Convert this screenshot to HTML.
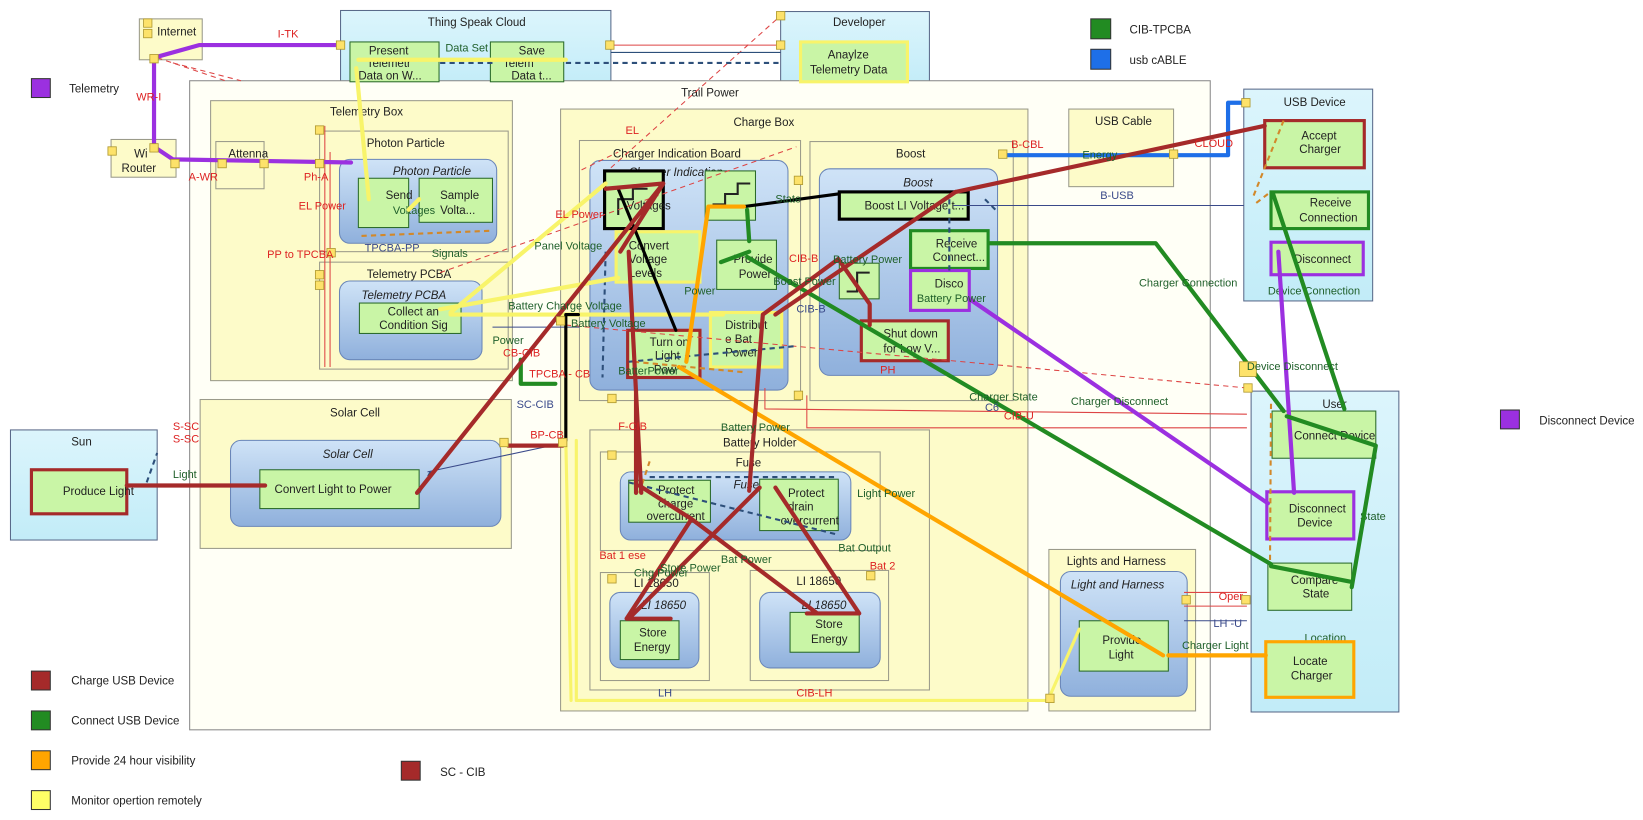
<!DOCTYPE html>
<html><head><meta charset="utf-8"><style>
html,body{margin:0;padding:0;background:#fff;}
svg{display:block;font-family:"Liberation Sans",sans-serif;}
.y{fill:#fdfbc9;stroke:#9a9a8a;stroke-width:1}
.w{fill:#fffff6;stroke:#8a8a8a;stroke-width:1}
.lb{fill:url(#lbg);stroke:#5a6a8a;stroke-width:1}
.ib{fill:url(#ibg);stroke:#6a86b8;stroke-width:1}
.g{fill:#c9f5a6;stroke:#2a6a2a;stroke-width:1}
.t{font-size:11px;fill:#222}
.ti{font-size:11px;fill:#222;font-style:italic}
.f{font-size:10.5px;fill:#1f5f2a}
.r{font-size:10.5px;fill:#d22}
.bl{font-size:10.5px;fill:#3a4a8a}
.c{text-anchor:middle}
.p{fill:#fde26a;stroke:#b09a30;stroke-width:.8}
</style></head><body>
<svg width="1643" height="820" viewBox="0 0 1568 782" preserveAspectRatio="none">
<defs>
<linearGradient id="lbg" x1="0" y1="0" x2="0" y2="1"><stop offset="0" stop-color="#dcf5fc"/><stop offset="1" stop-color="#c2ecf8"/></linearGradient>
<linearGradient id="ibg" x1="0" y1="0" x2="0" y2="1"><stop offset="0" stop-color="#cfe3f7"/><stop offset="1" stop-color="#8fb0dc"/></linearGradient>
</defs>

<!-- outer structures -->
<rect class="y" x="133" y="18" width="60" height="39"/>
<text class="t" x="150" y="34">Internet</text>
<rect class="y" x="106" y="133" width="62" height="36"/>
<text class="t" x="128" y="150">Wi</text><text class="t" x="116" y="164">Router</text>

<rect class="lb" x="325" y="10" width="258" height="73"/>
<text class="t c" x="455" y="25">Thing Speak Cloud</text>
<rect class="lb" x="745" y="11" width="142" height="72"/>
<text class="t c" x="820" y="25">Developer</text>

<rect class="w" x="181" y="77" width="974" height="619"/>
<text class="t" x="650" y="92">Trail Power</text>

<!-- telemetry box -->
<rect class="y" x="201" y="96" width="288" height="267"/>
<text class="t" x="315" y="110">Telemetry Box</text>
<rect class="y" x="206" y="135" width="46" height="45"/>
<text class="t" x="218" y="150">Attenna</text>
<rect class="y" x="305" y="125" width="180" height="115"/>
<text class="t" x="350" y="140">Photon Particle</text>
<rect class="ib" x="324" y="152" width="150" height="80" rx="10"/>
<text class="ti" x="375" y="167">Photon Particle</text>
<rect class="g" x="342" y="170" width="48" height="47"/>
<text class="t" x="368" y="190">Send</text>
<rect class="g" x="400" y="170" width="70" height="42"/>
<text class="t" x="420" y="190">Sample</text><text class="t" x="420" y="204">Volta...</text>
<text class="f" x="375" y="204">Voltages</text>
<rect class="y" x="305" y="250" width="180" height="102"/>
<text class="t" x="350" y="265">Telemetry PCBA</text>
<rect class="ib" x="324" y="268" width="136" height="75" rx="10"/>
<text class="ti" x="345" y="285">Telemetry PCBA</text>
<rect class="g" x="343" y="289" width="97" height="29"/>
<text class="t" x="370" y="301">Collect an</text><text class="t" x="362" y="314">Condition Sig</text>

<!-- solar -->
<rect class="y" x="191" y="381" width="297" height="142"/>
<text class="t" x="315" y="397">Solar Cell</text>
<rect class="ib" x="220" y="420" width="258" height="82" rx="10"/>
<text class="ti" x="308" y="437">Solar Cell</text>
<rect class="g" x="248" y="448" width="152" height="37"/>
<text class="t" x="262" y="470">Convert Light to Power</text>

<rect class="lb" x="10" y="410" width="140" height="105"/>
<text class="t" x="68" y="425">Sun</text>
<rect class="g" x="30" y="448" width="91" height="42" style="stroke:#a52a2a;stroke-width:3"/>
<text class="t" x="60" y="472">Produce Light</text>

<!-- charge box -->
<rect class="y" x="535" y="104" width="446" height="574"/>
<text class="t" x="700" y="120">Charge Box</text>
<rect class="y" x="553" y="134" width="211" height="248"/>
<text class="t" x="585" y="150">Charger Indication Board</text>
<rect class="ib" x="563" y="153" width="189" height="219" rx="10"/>
<text class="ti" x="600" y="168">Charger Indication</text>
<rect class="g" x="577" y="163" width="56" height="55" style="stroke:#000;stroke-width:3"/>
<path d="M590 205 v-15 h14 v-10 h14" fill="none" stroke="#222" stroke-width="2"/>
<text class="t" x="598" y="200">Voltages</text>
<rect class="g" x="673" y="163" width="48" height="47"/>
<path d="M680 195 h12 v-10 h12 v-10 h12" fill="none" stroke="#222" stroke-width="2"/>
<rect class="g" x="588" y="221" width="80" height="48" style="stroke:#f8f46a;stroke-width:3"/>
<text class="t" x="600" y="238">Convert</text><text class="t" x="600" y="251">Voltage</text><text class="t" x="600" y="264">Levels</text>
<rect class="g" x="684" y="229" width="57" height="47"/>
<text class="t" x="700" y="251">Provide</text><text class="t" x="705" y="265">Power</text>
<rect class="g" x="599" y="315" width="69" height="45" style="stroke:#a52a2a;stroke-width:3"/>
<text class="t" x="620" y="330">Turn on</text><text class="t" x="625" y="343">Light</text><text class="t" x="624" y="356">Pow</text>
<rect class="g" x="678" y="298" width="68" height="52" style="stroke:#f8f46a;stroke-width:3"/>
<text class="t" x="692" y="314">Distribut</text><text class="t" x="692" y="327">e Bat</text><text class="t" x="692" y="340">Power</text>

<rect class="y" x="773" y="135" width="194" height="247"/>
<text class="t" x="855" y="150">Boost</text>
<rect class="ib" x="782" y="161" width="170" height="197" rx="10"/>
<text class="ti" x="862" y="178">Boost</text>
<rect class="g" x="801" y="183" width="123" height="26" style="stroke:#000;stroke-width:3"/>
<text class="t" x="825" y="200">Boost LI Voltage t...</text>
<rect class="g" x="801" y="251" width="38" height="34"/>
<path d="M808 278 h10 v-18 h12" fill="none" stroke="#222" stroke-width="2"/>
<rect class="g" x="869" y="220" width="74" height="36" style="stroke:#228b22;stroke-width:3"/>
<text class="t" x="893" y="236">Receive</text><text class="t" x="890" y="249">Connect...</text>
<rect class="g" x="869" y="258" width="56" height="38" style="stroke:#9b30e0;stroke-width:3"/>
<text class="t" x="892" y="274">Disco</text>
<rect class="g" x="822" y="306" width="83" height="38" style="stroke:#a52a2a;stroke-width:3"/>
<text class="t" x="843" y="322">Shut down</text><text class="t" x="843" y="336">for Low V...</text>

<rect class="y" x="563" y="410" width="324" height="248"/>
<text class="t" x="690" y="426">Battery Holder</text>
<rect class="y" x="573" y="431" width="267" height="94"/>
<text class="t" x="702" y="445">Fuse</text>
<rect class="ib" x="592" y="450" width="220" height="65" rx="10"/>
<text class="ti" x="700" y="466">Fuse</text>
<rect class="g" x="600" y="458" width="78" height="40"/>
<text class="t" x="628" y="471">Protect</text><text class="t" x="628" y="484">charge</text><text class="t" x="617" y="496">overcurrent</text>
<rect class="g" x="725" y="457" width="75" height="49"/>
<text class="t" x="752" y="474">Protect</text><text class="t" x="752" y="487">drain</text><text class="t" x="745" y="500">overcurrent</text>
<rect class="y" x="573" y="546" width="104" height="103"/>
<text class="t" x="605" y="560">LI 18650</text>
<rect class="ib" x="582" y="565" width="85" height="72" rx="10"/>
<text class="ti" x="612" y="581">LI 18650</text>
<rect class="g" x="592" y="592" width="56" height="37"/>
<text class="t" x="610" y="607">Store</text><text class="t" x="605" y="621">Energy</text>
<rect class="y" x="716" y="544" width="132" height="105"/>
<text class="t" x="760" y="558">LI 18650</text>
<rect class="ib" x="725" y="565" width="115" height="72" rx="10"/>
<text class="ti" x="765" y="581">LI 18650</text>
<rect class="g" x="754" y="584" width="66" height="38"/>
<text class="t" x="778" y="599">Store</text><text class="t" x="774" y="613">Energy</text>

<rect class="y" x="1020" y="104" width="100" height="74"/>
<text class="t" x="1045" y="119">USB Cable</text>
<rect class="y" x="1001" y="524" width="140" height="154"/>
<text class="t" x="1018" y="539">Lights and Harness</text>
<rect class="ib" x="1012" y="545" width="121" height="119" rx="10"/>
<text class="ti" x="1022" y="561">Light and Harness</text>
<rect class="g" x="1030" y="592" width="85" height="48"/>
<text class="t" x="1052" y="614">Provide</text><text class="t" x="1058" y="628">Light</text>

<!-- USB Device & User -->
<rect class="lb" x="1187" y="85" width="123" height="202"/>
<text class="t" x="1225" y="101">USB Device</text>
<rect class="g" x="1207" y="115" width="95" height="45" style="stroke:#a52a2a;stroke-width:3"/>
<text class="t" x="1242" y="133">Accept</text><text class="t" x="1240" y="146">Charger</text>
<rect class="g" x="1213" y="183" width="93" height="35" style="stroke:#228b22;stroke-width:3"/>
<text class="t" x="1250" y="197">Receive</text><text class="t" x="1240" y="211">Connection</text>
<rect class="g" x="1213" y="231" width="88" height="31" style="stroke:#9b30e0;stroke-width:3"/>
<text class="t" x="1235" y="251">Disconnect</text>
<text class="f" x="1210" y="281">Device Connection</text>

<rect class="lb" x="1194" y="373" width="141" height="306"/>
<text class="t" x="1262" y="389">User</text>
<rect class="g" x="1214" y="392" width="99" height="45"/>
<text class="t" x="1235" y="419">Connect Device</text>
<rect class="g" x="1209" y="469" width="83" height="45" style="stroke:#9b30e0;stroke-width:3"/>
<text class="t" x="1230" y="489">Disconnect</text><text class="t" x="1238" y="502">Device</text>
<text class="f" x="1298" y="496">State</text>
<rect class="g" x="1210" y="537" width="80" height="45"/>
<text class="t" x="1232" y="557">Compare</text><text class="t" x="1243" y="570">State</text>
<text class="f" x="1245" y="612">Location</text>
<rect class="g" x="1208" y="612" width="84" height="53" style="stroke:#ffa500;stroke-width:3"/>
<text class="t" x="1234" y="634">Locate</text><text class="t" x="1232" y="648">Charger</text>

<rect class="g" x="764" y="40" width="102" height="38" style="stroke:#f8f46a;stroke-width:3"/>
<text class="t" x="790" y="56">Anaylze</text><text class="t" x="773" y="70">Telemetry Data</text>
<rect class="g" x="334" y="40" width="85" height="38"/>
<text class="t" x="352" y="52">Present</text><text class="t" x="350" y="64">Telemetr</text><text class="t" x="342" y="76">Data on W...</text>
<rect class="g" x="468" y="40" width="70" height="38"/>
<text class="t" x="495" y="52">Save</text><text class="t" x="480" y="64">Telem</text><text class="t" x="488" y="76">Data t...</text>
<text class="f" x="425" y="49">Data Set</text>

<!-- dashed thin lines -->
<g fill="none" stroke-width="1" stroke-dasharray="5,4">
<path d="M150 55 L215 77 M165 60 L230 77" stroke="#d44"/>
<path d="M540 310 L1190 370" stroke="#d44"/>
<path d="M420 260 L760 140" stroke="#d44"/>
<path d="M583 160 L745 15" stroke="#d44"/>
<path d="M555 162 L590 145" stroke="#d44"/>
<path d="M540 60 L745 60 M420 60 L470 60" stroke="#2d4f7a" stroke-width="2"/>
<path d="M578 240 L575 360 M600 345 L760 330 M906 190 L906 260 M940 190 L950 200" stroke="#2d4f7a" stroke-width="2"/>
<path d="M600 460 L800 510 M620 455 L800 455" stroke="#2d4f7a" stroke-width="2"/>
<path d="M400 470 L412 448 M140 460 L150 432" stroke="#2d4f7a" stroke-width="2"/>
<path d="M1213 385 L1212 540 M1210 185 L1197 195 M1225 115 L1195 190" stroke="#d2882a" stroke-width="2"/>
<path d="M345 225 L470 220 M610 470 L620 440 M605 345 L710 355" stroke="#d2882a" stroke-width="2"/>
</g>
<!-- thin solid lines -->
<g fill="none" stroke-width="1">
<path d="M580 43 L745 43" stroke="#d44"/>
<path d="M583 50 L745 50" stroke="#2d4f7a"/>
<path d="M310 120 L310 350 M315 145 L315 350" stroke="#d44"/>
<path d="M910 196 L1187 196" stroke="#3a4a8a"/>
<path d="M730 370 L730 390 L1190 395 M770 377 L770 408 L1190 408" stroke="#d44"/>
<path d="M1130 565 L1190 565 M1130 578 L1190 578" stroke="#d44"/>
<path d="M1130 592 L1190 592" stroke="#3a4a8a"/>
<path d="M470 312 L553 312" stroke="#3a4a8a"/>
<path d="M408 450 L540 422" stroke="#3a4a8a"/>
</g>

<!-- thick colored flows -->
<g fill="none" stroke-linecap="round" stroke-linejoin="round">
<path d="M147 140 L147 55 L190 43 L325 43 M147 140 L165 152 L335 155" stroke="#9b30e0" stroke-width="4"/>
<path d="M925 285 L1210 480 M1220 240 L1235 470" stroke="#9b30e0" stroke-width="4"/>
<path d="M955 148 L1172 148 L1172 98 L1187 98" stroke="#1e6fe8" stroke-width="4"/>
<path d="M342 57 L470 57 L540 57 M340 65 L352 190 M400 190 L390 200 M430 298 L578 175 M420 295 L590 265 M430 300 L690 300" stroke="#f8f46a" stroke-width="4"/>
<path d="M550 420 L550 668 L1000 668 L1030 600 M540 420 L545 668" stroke="#f8f46a" stroke-width="3"/>
<path d="M552 300 L540 300 L540 420 M590 180 L645 315 M710 197 L800 185" stroke="#000" stroke-width="3"/>
<path d="M497 343 L497 366 L530 366 M945 232 L1103 232 L1225 392 M713 245 L1213 538 M1215 185 L1283 390 M1313 425 L1290 560 M1313 425 L1228 397 M1213 540 L1290 555 M715 230 L713 200 M715 240 L688 250" stroke="#228b22" stroke-width="4"/>
<path d="M710 197 L676 197 L655 345 M648 350 L1110 625 M1115 625 L1208 625" stroke="#ffa500" stroke-width="4"/>
<path d="M121 463 L253 463 M398 470 L633 175 M578 180 L633 175 M633 175 L592 240 M600 240 L612 470 M607 372 L607 470 M610 463 L660 495 M660 495 L598 590 M660 495 L780 585 M725 465 L600 590 M740 465 L820 585 M715 468 L728 300 M728 300 L800 247 M800 247 L830 290 L830 310 M740 300 L912 183 M912 183 L1207 120 M485 425 L537 425 M598 590 L640 590 M770 585 L820 585" stroke="#a52a2a" stroke-width="4"/>
</g>

<!-- port squares -->
<g class="p">
<rect x="137" y="18" width="8" height="8"/><rect x="137" y="28" width="8" height="8"/><rect x="143" y="52" width="8" height="8"/>
<rect x="321" y="39" width="8" height="8"/><rect x="578" y="39" width="8" height="8"/><rect x="741" y="39" width="8" height="8"/><rect x="741" y="11" width="8" height="8"/>
<rect x="103" y="140" width="8" height="8"/><rect x="143" y="137" width="8" height="8"/><rect x="163" y="152" width="8" height="8"/>
<rect x="208" y="152" width="8" height="8"/><rect x="248" y="152" width="8" height="8"/><rect x="301" y="152" width="8" height="8"/>
<rect x="301" y="120" width="8" height="8"/><rect x="312" y="237" width="8" height="8"/><rect x="301" y="258" width="8" height="8"/><rect x="301" y="268" width="8" height="8"/>
<rect x="477" y="418" width="8" height="8"/><rect x="533" y="418" width="8" height="8"/><rect x="531" y="302" width="8" height="8"/>
<rect x="758" y="168" width="8" height="8"/><rect x="953" y="143" width="8" height="8"/><rect x="1116" y="143" width="8" height="8"/><rect x="1185" y="94" width="8" height="8"/>
<rect x="580" y="376" width="8" height="8"/><rect x="758" y="373" width="8" height="8"/><rect x="580" y="430" width="8" height="8"/><rect x="580" y="548" width="8" height="8"/><rect x="827" y="545" width="8" height="8"/>
<rect x="1187" y="366" width="8" height="8"/><rect x="1185" y="568" width="8" height="8"/><rect x="1128" y="568" width="8" height="8"/><rect x="998" y="662" width="8" height="8"/>
<rect x="1183" y="345" width="16" height="14"/>
</g>

<!-- flow labels -->
<text class="r" x="265" y="36">I-TK</text>
<text class="r" x="130" y="96">WR-I</text>
<text class="r" x="180" y="172">A-WR</text>
<text class="r" x="290" y="172">Ph-A</text>
<text class="r" x="285" y="200">EL Power</text>
<text class="r" x="255" y="246">PP to TPCBA</text>
<text class="bl" x="348" y="240">TPCBA-PP</text>
<text class="f" x="412" y="245">Signals</text>
<text class="f" x="510" y="238">Panel Voltage</text>
<text class="r" x="530" y="208">EL Power</text>
<text class="r" x="597" y="128">EL</text>
<text class="f" x="485" y="295">Battery Charge Voltage</text>
<text class="f" x="545" y="312">Battery Voltage</text>
<text class="f" x="470" y="328">Power</text>
<text class="r" x="480" y="340">CB-CIB</text>
<text class="r" x="505" y="360">TPCBA - CB</text>
<text class="f" x="590" y="357">BatterPower</text>
<text class="f" x="653" y="281">Power</text>
<text class="f" x="738" y="272">Boost Power</text>
<text class="r" x="753" y="250">CIB-B</text>
<text class="bl" x="760" y="298">CIB-B</text>
<text class="f" x="740" y="193">State</text>
<text class="f" x="795" y="251">Battery Power</text>
<text class="f" x="875" y="288">Battery Power</text>
<text class="r" x="840" y="356">PH</text>
<text class="r" x="965" y="141">B-CBL</text>
<text class="f" x="1033" y="151">Energy</text>
<text class="bl" x="1050" y="190">B-USB</text>
<text class="r" x="1140" y="140">CLOUD</text>
<text class="f" x="1087" y="273">Charger Connection</text>
<text class="f" x="1190" y="353">Device Disconnect</text>
<text class="f" x="925" y="382">Charger State</text>
<text class="f" x="1022" y="386">Charger Disconnect</text>
<text class="bl" x="940" y="392">C6</text>
<text class="r" x="958" y="400">CIB-U</text>
<text class="r" x="165" y="410">S-SC</text>
<text class="r" x="165" y="422">S-SC</text>
<text class="f" x="165" y="456">Light</text>
<text class="bl" x="493" y="389">SC-CIB</text>
<text class="r" x="506" y="418">BP-CB</text>
<text class="r" x="590" y="410">F-CIB</text>
<text class="f" x="688" y="411">Battery Power</text>
<text class="f" x="818" y="474">Light Power</text>
<text class="f" x="800" y="526">Bat Output</text>
<text class="r" x="572" y="533">Bat 1 ese</text>
<text class="f" x="688" y="537">Bat Power</text>
<text class="f" x="630" y="545">Store Power</text>
<text class="f" x="605" y="550">Chg Power</text>
<text class="r" x="830" y="543">Bat 2</text>
<text class="bl" x="628" y="664">LH</text>
<text class="r" x="760" y="664">CIB-LH</text>
<text class="r" x="1163" y="572">Oper</text>
<text class="bl" x="1158" y="598">LH -U</text>
<text class="f" x="1128" y="619">Charger Light</text>

<!-- legends -->
<rect x="30" y="75" width="18" height="18" fill="#9b30e0" stroke="#333"/><text class="t" x="66" y="88">Telemetry</text>
<rect x="1041" y="18" width="19" height="19" fill="#228b22" stroke="#333"/><text class="t" x="1078" y="32">CIB-TPCBA</text>
<rect x="1041" y="47" width="19" height="19" fill="#1e6fe8" stroke="#333"/><text class="t" x="1078" y="61">usb cABLE</text>
<rect x="1432" y="391" width="18" height="18" fill="#9b30e0" stroke="#333"/><text class="t" x="1469" y="405">Disconnect Device</text>
<rect x="30" y="640" width="18" height="18" fill="#a52a2a" stroke="#333"/><text class="t" x="68" y="653">Charge USB Device</text>
<rect x="30" y="678" width="18" height="18" fill="#228b22" stroke="#333"/><text class="t" x="68" y="691">Connect USB Device</text>
<rect x="30" y="716" width="18" height="18" fill="#ffa500" stroke="#333"/><text class="t" x="68" y="729">Provide 24 hour visibility</text>
<rect x="30" y="754" width="18" height="18" fill="#ffff66" stroke="#333"/><text class="t" x="68" y="767">Monitor opertion remotely</text>
<rect x="383" y="726" width="18" height="18" fill="#a52a2a" stroke="#333"/><text class="t" x="420" y="740">SC - CIB</text>
</svg>
</body></html>
